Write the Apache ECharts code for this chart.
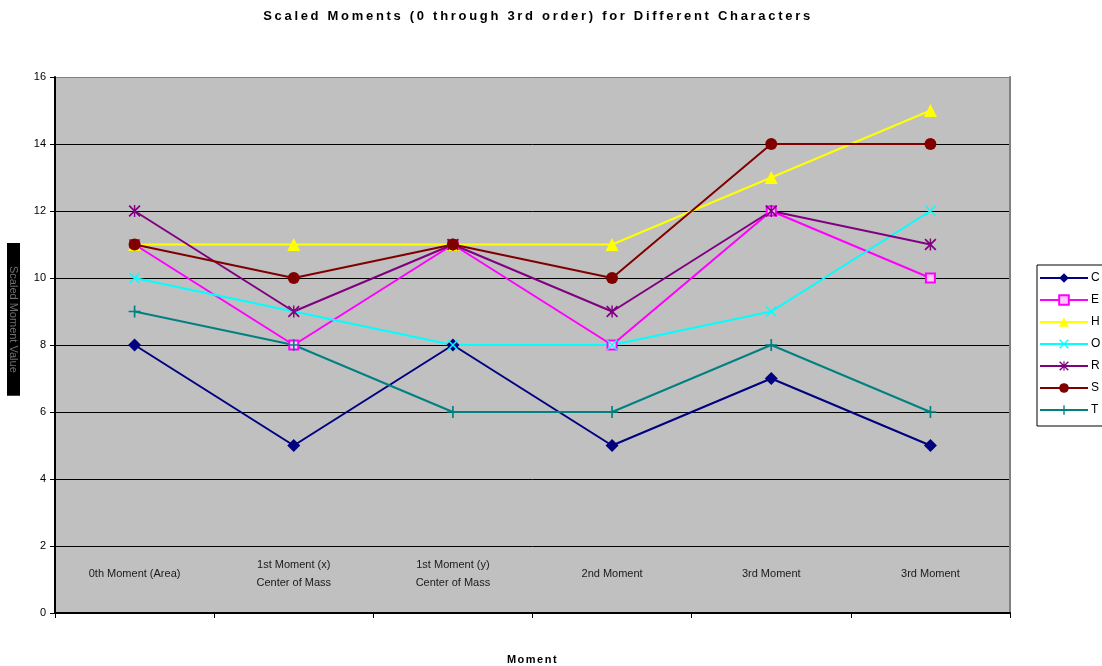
<!DOCTYPE html>
<html>
<head>
<meta charset="utf-8">
<script src="https://cdn.jsdelivr.net/npm/echarts@6/dist/echarts.min.js"></script>
<style>
  html, body { margin: 0; padding: 0; background: #ffffff; }
  #chart { width: 1102px; height: 666px; }
</style>
</head>
<body>
<div id="chart"></div>
<script>
// Moment categories along the x axis
const categories = [
  '0th Moment (Area)',
  '1st Moment (x)\nCenter of Mass',
  '1st Moment (y)\nCenter of Mass',
  '2nd Moment',
  '3rd Moment',
  '3rd Moment'
];

// Scaled moment values per character
const seriesC = [8, 5, 8, 5, 7, 5];
const seriesE = [11, 8, 11, 8, 12, 10];
const seriesH = [11, 11, 11, 11, 13, 15];
const seriesO = [10, 9, 8, 8, 9, 12];
const seriesR = [12, 9, 11, 9, 12, 11];
const seriesS = [11, 10, 11, 10, 14, 14];
const seriesT = [9, 8, 6, 6, 8, 6];

const yTicks = [0, 2, 4, 6, 8, 10, 12, 14, 16];

const TITLE = 'Scaled Moments (0 through 3rd order) for Different Characters';
const X_NAME = 'Moment';
const Y_NAME = 'Scaled Moment Value';
const FONT = 'Liberation Sans, Arial, sans-serif';

// Spaced-out lettering for the bold headings (canvas letterSpacing),
// every other text is drawn with zero spacing
const spacing = {};
spacing[TITLE] = '2.7px';
spacing[X_NAME] = '1.5px';
const baseFillText = CanvasRenderingContext2D.prototype.fillText;
CanvasRenderingContext2D.prototype.fillText = function (text, x, y, maxWidth) {
  if ('letterSpacing' in this) {
    const ls = spacing[text] || '0px';
    if (this.letterSpacing !== ls) {
      const f = this.font;
      this.letterSpacing = ls;
      this.font = f;
    }
  }
  return maxWidth === undefined ? baseFillText.call(this, text, x, y) : baseFillText.call(this, text, x, y, maxWidth);
};

// Marker shapes drawn as filled paths on a 10x10 box
const SYM_PLUS = 'path://M4.3,0H5.7V10H4.3Z M0,4.3H10V5.7H0Z';
const SYM_X = 'path://M0,1L1,0L10,9L9,10Z M9,0L10,1L1,10L0,9Z';
const SYM_STAR = 'path://M0,1L1,0L10,9L9,10Z M9,0L10,1L1,10L0,9Z M4.4,0H5.6V10H4.4Z';

function line(name, data, color, symbol, size, extra) {
  return Object.assign({
    name: name,
    type: 'line',
    data: data,
    symbol: symbol,
    symbolSize: size,
    showAllSymbol: true,
    lineStyle: { color: color, width: 2 },
    itemStyle: { color: color, borderColor: color, borderWidth: 0 },
    emphasis: { disabled: true },
    animation: false
  }, extra || {});
}

const chart = echarts.init(document.getElementById('chart'), null, { renderer: 'canvas' });

// Plain frame axes for the gray top and right edges of the plot
const frameAxis = {
  show: true,
  axisLine: { show: true, lineStyle: { color: '#808080', width: 2 } },
  axisTick: { show: false },
  axisLabel: { show: false }
};

chart.setOption({
  backgroundColor: '#ffffff',
  animation: false,
  title: {
    text: TITLE,
    left: 533,
    top: 5,
    textAlign: 'center',
    textStyle: { fontFamily: FONT, fontSize: 13, fontWeight: 'bold', color: '#000000' }
  },
  graphic: [{
    type: 'text',
    left: 7,
    top: 243,
    rotation: -Math.PI / 2,
    style: {
      text: Y_NAME,
      fontFamily: FONT,
      fontSize: 11,
      fill: '#707070',
      backgroundColor: '#000000',
      padding: [1, 23, 1, 23]
    }
  }],
  legend: {
    orient: 'vertical',
    left: 1037,
    top: 265,
    padding: [7, 20, 10, 2],
    itemWidth: 48,
    itemHeight: 12,
    itemGap: 10,
    borderColor: '#000000',
    borderWidth: 1,
    backgroundColor: '#ffffff',
    textStyle: { fontFamily: FONT, fontSize: 12, color: '#000000', padding: [0, 0, 0, -2] },
    data: ['C', 'E', 'H', 'O', 'R', 'S', 'T']
  },
  grid: {
    left: 55,
    right: 92,
    top: 77,
    bottom: 53,
    show: true,
    backgroundColor: '#C0C0C0',
    borderWidth: 0,
    outerBoundsMode: 'none'
  },
  xAxis: [{
    type: 'category',
    data: categories,
    boundaryGap: true,
    name: X_NAME,
    nameLocation: 'middle',
    nameGap: 41,
    nameTextStyle: { fontFamily: FONT, fontSize: 11, fontWeight: 'bold', color: '#000000' },
    axisLine: { show: true, lineStyle: { color: '#000000', width: 2 } },
    axisTick: { show: true, alignWithLabel: false, length: 5, lineStyle: { color: '#000000', width: 1 } },
    axisLabel: {
      margin: -39,
      interval: 0,
      verticalAlign: 'middle',
      fontFamily: FONT,
      fontSize: 11,
      lineHeight: 18,
      color: '#1a1a1a'
    },
    splitLine: { show: false },
    z: 5
  }, Object.assign({
    type: 'category',
    data: categories,
    position: 'top',
    splitLine: { show: false }
  }, frameAxis)],
  yAxis: [{
    type: 'value',
    min: yTicks[0],
    max: yTicks[yTicks.length - 1],
    interval: 2,
    axisLine: { show: true, lineStyle: { color: '#000000', width: 2 } },
    axisTick: { show: true, length: 5, lineStyle: { color: '#000000', width: 1 } },
    axisLabel: { margin: 9, fontFamily: FONT, fontSize: 11, color: '#000000' },
    splitLine: { show: false },
    z: 5
  }, Object.assign({
    // right frame edge; also carries the horizontal gridlines beneath the series
    type: 'value',
    min: yTicks[0],
    max: yTicks[yTicks.length - 1],
    interval: 2,
    position: 'right',
    splitLine: {
      show: true,
      lineStyle: {
        color: ['#000000', '#000000', '#000000', '#000000', '#000000', '#000000', '#000000', '#000000', '#808080'],
        width: 1
      }
    }
  }, frameAxis)],
  series: [
    line('C', seriesC, '#000080', 'diamond', 13),
    line('E', seriesE, '#FF00FF', 'rect', 9, {
      itemStyle: { color: '#FFC8FF', borderColor: '#FF00FF', borderWidth: 2 }
    }),
    line('H', seriesH, '#FFFF00', 'triangle', 13),
    line('O', seriesO, '#00FFFF', SYM_X, 11),
    line('R', seriesR, '#800080', SYM_STAR, 12),
    line('S', seriesS, '#800000', 'circle', 12),
    line('T', seriesT, '#008080', SYM_PLUS, 12)
  ]
});
</script>
</body>
</html>
